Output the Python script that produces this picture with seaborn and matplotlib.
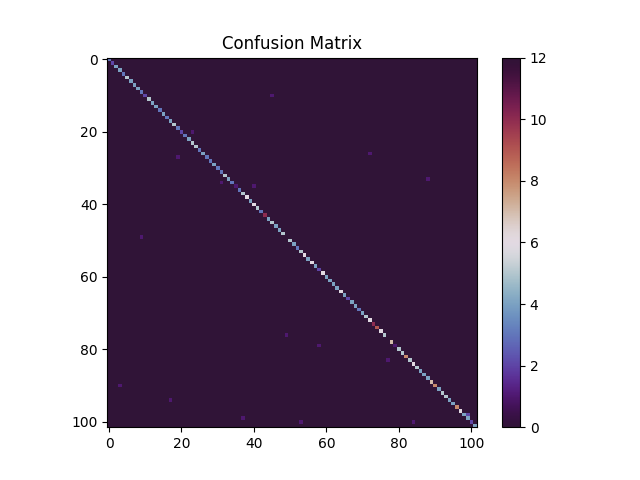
import numpy as np
import pandas as pd
import matplotlib
matplotlib.use("Agg")
import matplotlib.pyplot as plt
import seaborn as sns

n_classes = 102

diag_values = [
    3, 2, 4, 4, 3, 5, 4, 4, 4, 3,
    2, 5, 4, 4, 3, 4, 3, 4, 5, 3,
    2, 3, 4, 5, 5, 3, 4, 3, 3, 4,
    3, 3, 5, 4, 3, 1, 3, 5, 6, 4,
    6, 5, 3, 10, 4, 5, 4, 4, 5, 12,
    5, 4, 3, 5, 6, 4, 6, 4, 2, 6,
    4, 4, 4, 4, 6, 4, 2, 4, 4, 3,
    4, 5, 6, 10, 9, 6, 5, 12, 7, 1,
    5, 5, 8, 5, 6, 5, 4, 4, 4, 7,
    8, 4, 5, 5, 4, 4, 8, 6, 4, 4,
    2, 4,
]

off_rows = [10, 20, 26, 27, 33, 34, 35, 49, 76, 79, 83, 90, 94, 98, 99, 100, 100]
off_cols = [45, 23, 72, 19, 88, 31, 40, 9, 49, 58, 77, 3, 17, 99, 37, 53, 84]
off_vals = [1, 1, 1, 1, 1, 1, 1, 1, 1, 1, 1, 1, 1, 2, 1, 1, 1]

tick_values = [0, 20, 40, 60, 80, 100]

cm = np.zeros((n_classes, n_classes), dtype=int)
cm[np.arange(n_classes), np.arange(n_classes)] = diag_values
for r, c, v in zip(off_rows, off_cols, off_vals):
    cm[r, c] = v

df = pd.DataFrame(cm)

fig, ax = plt.subplots(figsize=(6.4, 4.8), dpi=100)
sns.heatmap(df, ax=ax, cmap="twilight_shifted", square=True,
            xticklabels=False, yticklabels=False, cbar=True)

ax.set_xticks([t + 0.5 for t in tick_values])
ax.set_xticklabels([str(t) for t in tick_values], rotation=0)
ax.set_yticks([t + 0.5 for t in tick_values])
ax.set_yticklabels([str(t) for t in tick_values], rotation=0)
ax.tick_params(axis="both", length=3.5, width=0.8, labelsize=10)
for s in ax.spines.values():
    s.set_visible(True)
    s.set_linewidth(0.8)
    s.set_color("black")
ax.set_title("Confusion Matrix", fontsize=12)

cb = ax.collections[0].colorbar
cb.outline.set_visible(True)
cb.outline.set_linewidth(0.8)
cb.set_ticks([0, 2, 4, 6, 8, 10, 12])
cb.ax.tick_params(labelsize=10, length=3.5, width=0.8)

fig.savefig("out.png", dpi=100)
